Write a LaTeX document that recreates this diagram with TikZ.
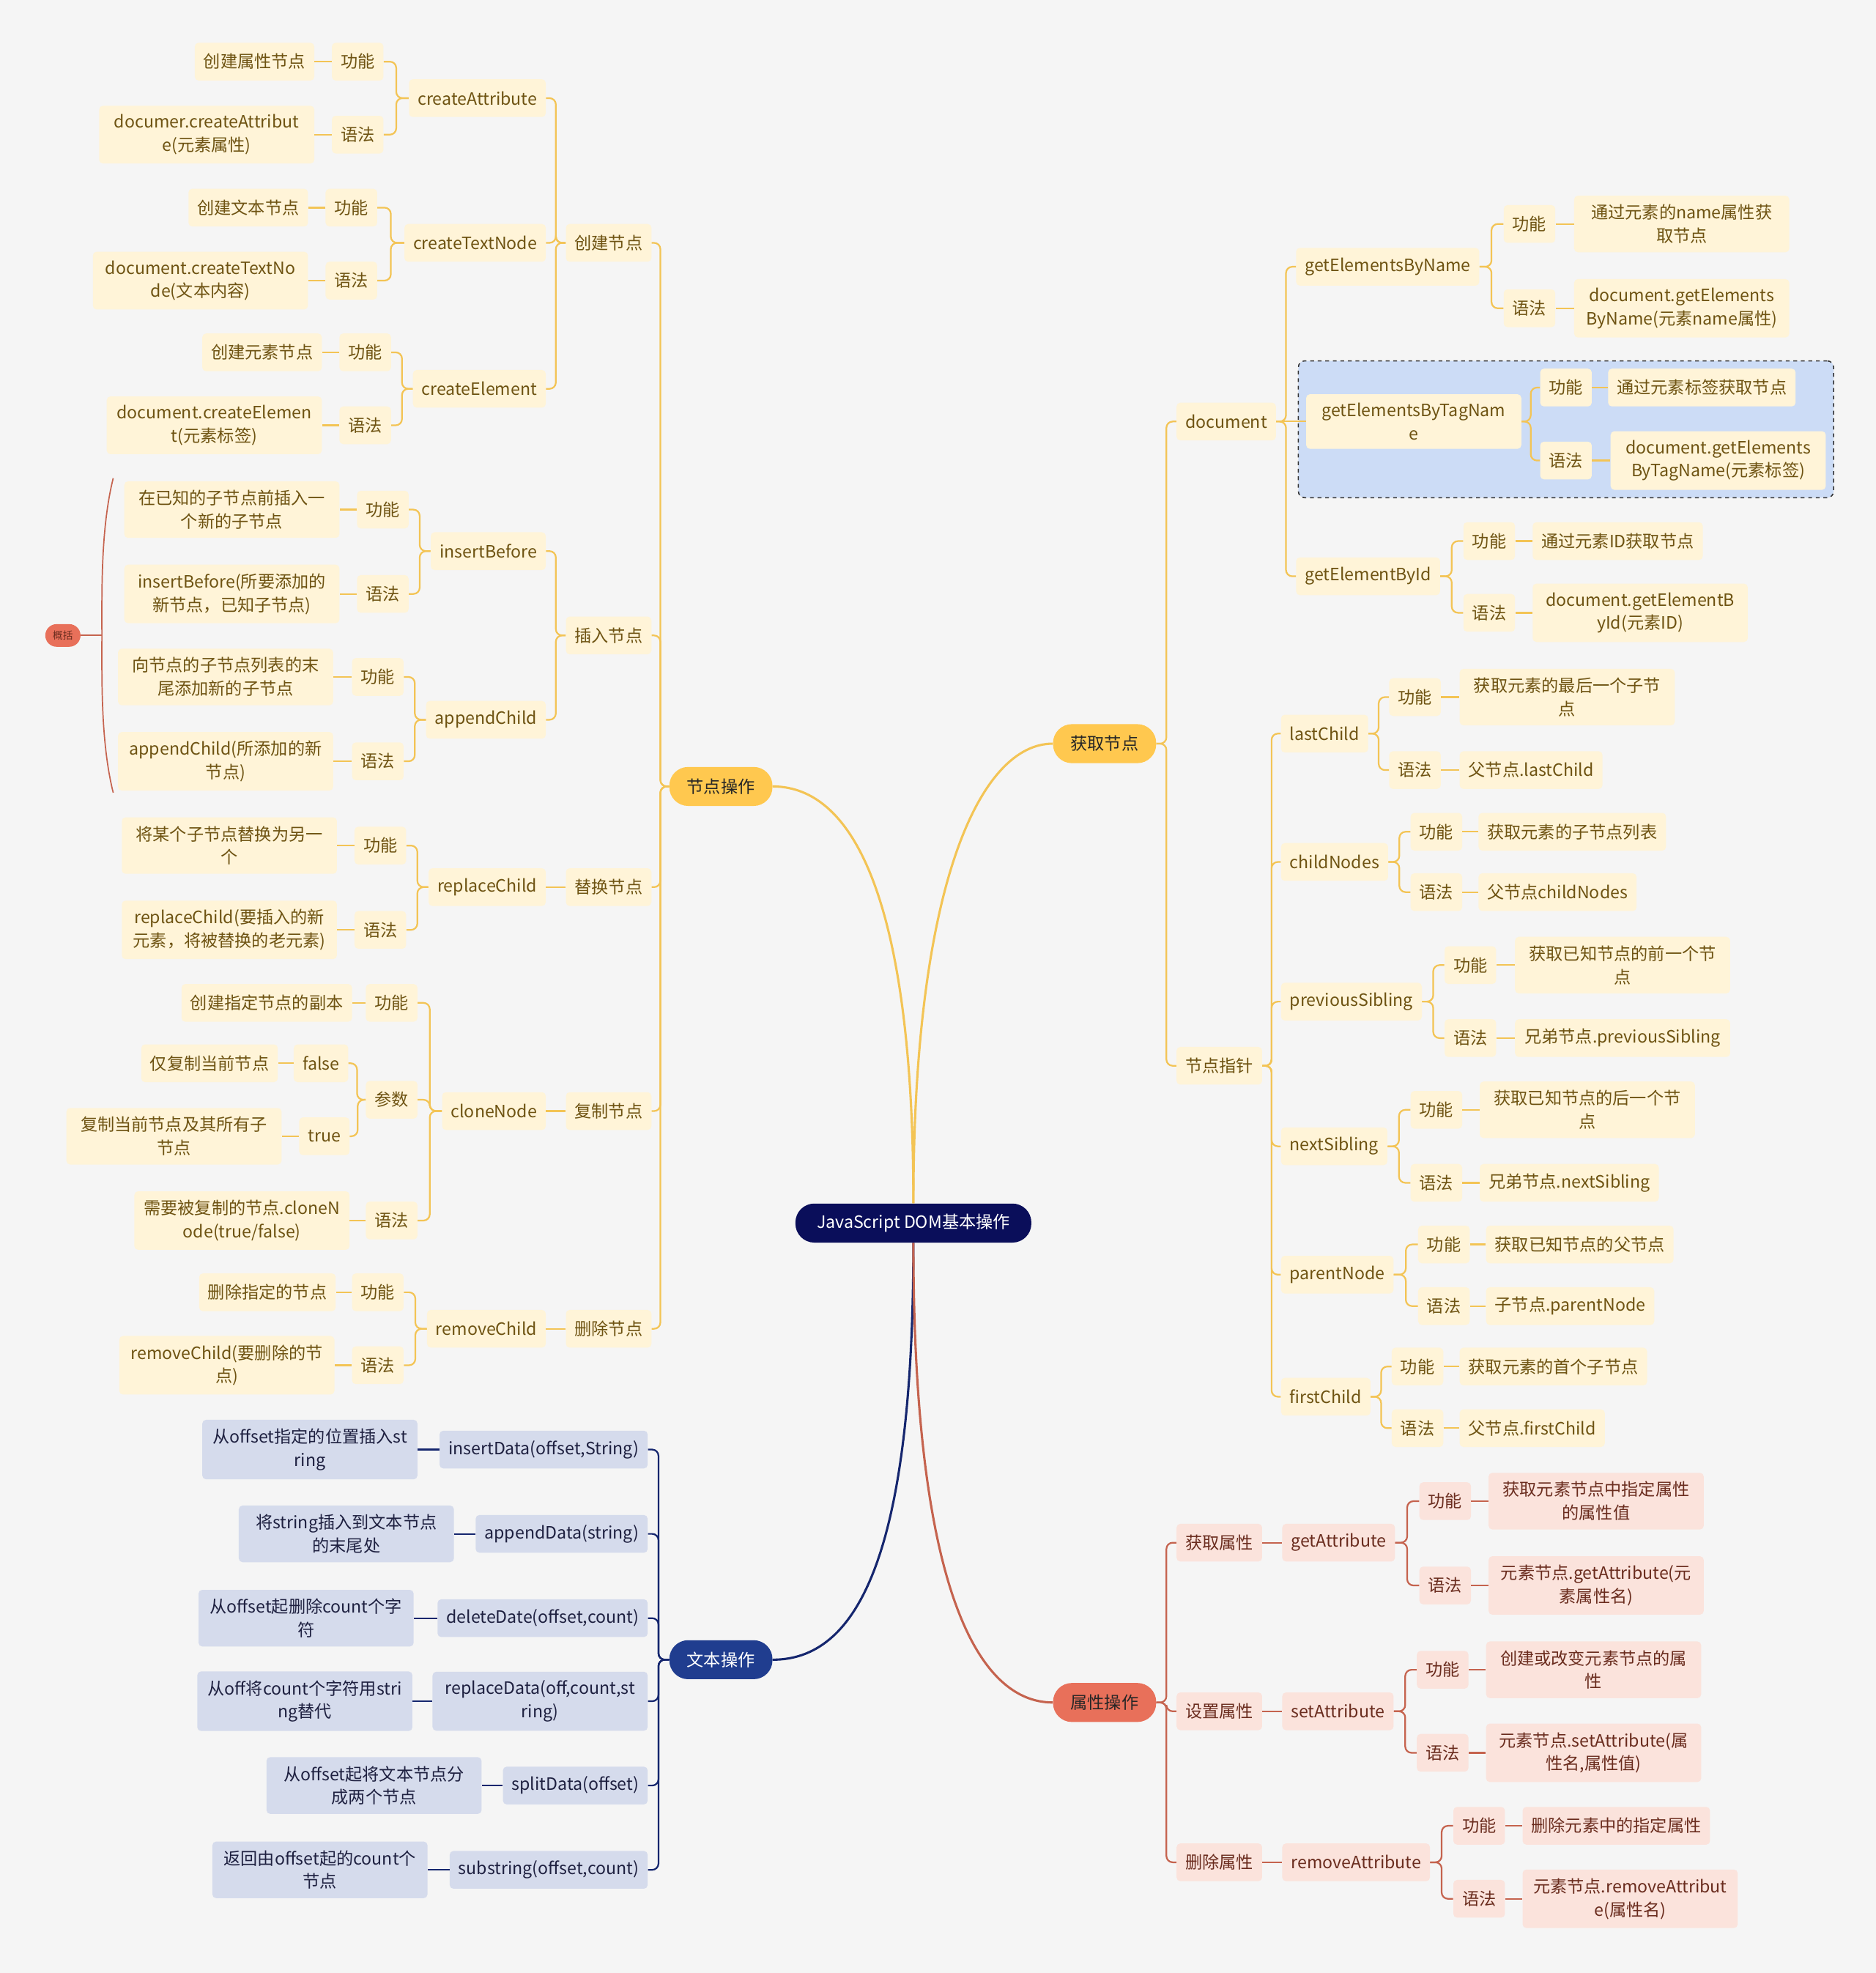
\documentclass[tikz,border=0pt]{standalone}
\usepackage{fontspec}
\setmainfont{Noto Sans CJK SC}
\usetikzlibrary{calc, fit, backgrounds}
\definecolor{cbg}{HTML}{F5F5F5}
\definecolor{croot}{HTML}{0A0E5A}
\definecolor{cyel}{HTML}{FFC84F}
\definecolor{cyelline}{HTML}{F3C455}
\definecolor{cyellight}{HTML}{FFF4D8}
\definecolor{cyeltext}{HTML}{6E5312}
\definecolor{cblue}{HTML}{203D8F}
\definecolor{cblueline}{HTML}{15266E}
\definecolor{cbluelight}{HTML}{D5DBEC}
\definecolor{cbluetext}{HTML}{1E2040}
\definecolor{cred}{HTML}{E8705A}
\definecolor{credline}{HTML}{C5634E}
\definecolor{credlight}{HTML}{FBE3DC}
\definecolor{credtext}{HTML}{6A2C1E}
\definecolor{cpick}{HTML}{CCDCF6}
\tikzset{
  every picture/.style={font=\fontsize{13.5}{18.5}\selectfont},
  box/.style={fill=#1, rounded corners=3pt, align=center, inner xsep=7pt, inner ysep=7pt, minimum height=30pt},
  ybox/.style={box=cyellight, text=cyeltext},
  bbox/.style={box=cbluelight, text=cbluetext},
  rbox/.style={box=credlight, text=credtext},
  wide/.style={minimum width=171pt},
  pill/.style={fill=#1, rounded corners=15pt, minimum height=31pt, inner xsep=14pt, align=center},
  L/.style={anchor=east},
  R/.style={anchor=west},
  ylink/.style={draw=cyelline, line width=1.3pt, rounded corners=5pt},
  blink/.style={draw=cblueline, line width=1.3pt, rounded corners=5pt},
  rlink/.style={draw=credline, line width=1.3pt, rounded corners=5pt},
  ymain/.style={draw=cyelline, line width=1.8pt},
  bmain/.style={draw=cblueline, line width=1.8pt},
  rmain/.style={draw=credline, line width=1.8pt},
  pick/.style={draw=black!80, dashed, line width=0.9pt, fill=cpick, rounded corners=5pt, inner sep=6pt},
  sumline/.style={draw=credline, line width=1pt},
}
% parent on the right, child on the left
\newcommand{\linkL}[3]{\draw[#1] (#2.west) -- ($(#2.west)!0.5!(#2.west-|#3.east)$) |- (#3.east);}
% parent on the left, child on the right
\newcommand{\linkR}[3]{\draw[#1] (#2.east) -- ($(#2.east)!0.5!(#2.east-|#3.west)$) |- (#3.west);}

\begin{document}
\begin{tikzpicture}[x=1pt, y=-1pt]
  \begin{scope}[on background layer]
    \fill[cbg] (0,0) rectangle (1491,1568);
  \end{scope}

  % centre and main branches
  \node[pill=croot, text=white, inner xsep=17pt] (root) at (726,972) {JavaScript DOM基本操作};
  \node[pill=cyel, text=black!85] (n) at (573,625) {节点操作};
  \node[pill=cyel, text=black!85] (g) at (878,591) {获取节点};
  \node[pill=cblue, text=white] (t) at (573,1319) {文本操作};
  \node[pill=cred, text=black!85] (a) at (878,1353) {属性操作};
  \draw[ymain] (root.north) .. controls (726,720) and (680,625) .. (n.east);
  \draw[ymain] (root.north) .. controls (726,700) and (780,591) .. (g.west);
  \draw[bmain] (root.south) .. controls (726,1240) and (680,1319) .. (t.east);
  \draw[rmain] (root.south) .. controls (726,1270) and (780,1353) .. (a.west);

  % 节点操作
  \node[ybox, L] (nA) at (518,193) {创建节点};
  \node[ybox, L] (nB) at (518,505) {插入节点};
  \node[ybox, L] (nC) at (518,705) {替换节点};
  \node[ybox, L] (nD) at (518,883) {复制节点};
  \node[ybox, L] (nE) at (518,1056) {删除节点};

  \node[ybox, L] (nA1) at (434,78) {createAttribute};
  \node[ybox, L] (nA1f) at (305,49) {功能};
  \node[ybox, L] (nA1s) at (305,107) {语法};
  \node[ybox, L] (nA1fx) at (250,49) {创建属性节点};
  \node[ybox, L, wide] (nA1sx) at (250,107) {documer.createAttribut\\e(元素属性)};
  \node[ybox, L] (nA2) at (434,193) {createTextNode};
  \node[ybox, L] (nA2f) at (300,165) {功能};
  \node[ybox, L] (nA2s) at (300,223) {语法};
  \node[ybox, L] (nA2fx) at (245,165) {创建文本节点};
  \node[ybox, L, wide] (nA2sx) at (245,223) {document.createTextNo\\de(文本内容)};
  \node[ybox, L] (nA3) at (434,309) {createElement};
  \node[ybox, L] (nA3f) at (311,280) {功能};
  \node[ybox, L] (nA3s) at (311,338) {语法};
  \node[ybox, L] (nA3fx) at (256,280) {创建元素节点};
  \node[ybox, L, wide] (nA3sx) at (256,338) {document.createElemen\\t(元素标签)};

  \node[ybox, L] (nB1) at (434,438) {insertBefore};
  \node[ybox, L] (nB1f) at (325,405) {功能};
  \node[ybox, L] (nB1s) at (325,472) {语法};
  \node[ybox, L, wide] (nB1fx) at (270,405) {在已知的子节点前插入一\\个新的子节点};
  \node[ybox, L, wide] (nB1sx) at (270,472) {insertBefore(所要添加的\\新节点，已知子节点)};
  \node[ybox, L] (nB2) at (434,572) {appendChild};
  \node[ybox, L] (nB2f) at (321,538) {功能};
  \node[ybox, L] (nB2s) at (321,605) {语法};
  \node[ybox, L, wide] (nB2fx) at (265,538) {向节点的子节点列表的末\\尾添加新的子节点};
  \node[ybox, L, wide] (nB2sx) at (265,605) {appendChild(所添加的新\\节点)};

  \node[ybox, L] (nC1) at (434,705) {replaceChild};
  \node[ybox, L] (nC1f) at (323,672) {功能};
  \node[ybox, L] (nC1s) at (323,739) {语法};
  \node[ybox, L, wide] (nC1fx) at (268,672) {将某个子节点替换为另一\\个};
  \node[ybox, L, wide] (nC1sx) at (268,739) {replaceChild(要插入的新\\元素，将被替换的老元素)};

  \node[ybox, L] (nD1) at (434,883) {cloneNode};
  \node[ybox, L] (nD1f) at (332,797) {功能};
  \node[ybox, L] (nD1p) at (332,874) {参数};
  \node[ybox, L] (nD1s) at (332,970) {语法};
  \node[ybox, L] (nD1fx) at (280,797) {创建指定节点的副本};
  \node[ybox, L] (nD1p1) at (277,845) {false};
  \node[ybox, L] (nD1p2) at (278,903) {true};
  \node[ybox, L] (nD1p1x) at (221,845) {仅复制当前节点};
  \node[ybox, L, wide] (nD1p2x) at (224,903) {复制当前节点及其所有子\\节点};
  \node[ybox, L, wide] (nD1sx) at (278,970) {需要被复制的节点.cloneN\\ode(true/false)};

  \node[ybox, L] (nE1) at (434,1056) {removeChild};
  \node[ybox, L] (nE1f) at (321,1027) {功能};
  \node[ybox, L] (nE1s) at (321,1085) {语法};
  \node[ybox, L] (nE1fx) at (267,1027) {删除指定的节点};
  \node[ybox, L, wide] (nE1sx) at (266,1085) {removeChild(要删除的节\\点)};

  \foreach \c in {nA,nB,nC,nD,nE} {\linkL{ylink}{n}{\c}}
  \foreach \c in {nA1,nA2,nA3} {\linkL{ylink}{nA}{\c}}
  \foreach \c in {nB1,nB2} {\linkL{ylink}{nB}{\c}}
  \foreach \g in {nA1,nA2,nA3,nB1,nB2,nC1,nD1,nE1} {
    \linkL{ylink}{\g}{\g f}
    \linkL{ylink}{\g}{\g s}
    \draw[ylink] (\g f.west) -- (\g fx.east);
    \draw[ylink] (\g s.west) -- (\g sx.east);
  }
  \foreach \c in {nC,nD,nE} {\draw[ylink] (\c.west) -- (\c 1.east);}
  \linkL{ylink}{nD1}{nD1p}
  \foreach \c in {nD1p1,nD1p2} {\linkL{ylink}{nD1p}{\c} \draw[ylink] (\c.west) -- (\c x.east);}

  % summary
  \node[pill=cred, text=credtext, font=\fontsize{8}{10}\selectfont, minimum height=18pt, inner xsep=6pt, rounded corners=9pt] (sum) at (50,505) {概括};
  \coordinate (sumtip) at (81,505);
  \draw[sumline] (90,380) .. controls (80,420) and (81,470) .. (sumtip) .. controls (81,540) and (80,590) .. (90,630);
  \draw[sumline] (sum.east) -- (sumtip);

  % 文本操作
  \node[bbox, L] (t1) at (515,1152) {insertData(offset,String)};
  \node[bbox, L, wide] (t1x) at (332,1152) {从offset指定的位置插入st\\ring};
  \node[bbox, L] (t2) at (515,1219) {appendData(string)};
  \node[bbox, L, wide] (t2x) at (361,1219) {将string插入到文本节点\\的末尾处};
  \node[bbox, L] (t3) at (515,1286) {deleteDate(offset,count)};
  \node[bbox, L, wide] (t3x) at (329,1286) {从offset起删除count个字\\符};
  \node[bbox, L, wide] (t4) at (515,1352) {replaceData(off,count,st\\ring)};
  \node[bbox, L, wide] (t4x) at (328,1352) {从off将count个字符用stri\\ng替代};
  \node[bbox, L] (t5) at (515,1419) {splitData(offset)};
  \node[bbox, L, wide] (t5x) at (383,1419) {从offset起将文本节点分\\成两个节点};
  \node[bbox, L] (t6) at (515,1486) {substring(offset,count)};
  \node[bbox, L, wide] (t6x) at (340,1486) {返回由offset起的count个\\节点};
  \foreach \i in {1,...,6} {\linkL{blink}{t}{t\i} \draw[blink] (t\i.west) -- (t\i x.east);}

  % 获取节点
  \node[ybox, R] (gA) at (935,335) {document};
  \node[ybox, R] (gB) at (935,847) {节点指针};

  \node[ybox, R] (gA1) at (1030,212) {getElementsByName};
  \node[ybox, R] (gA1f) at (1195,178) {功能};
  \node[ybox, R] (gA1s) at (1195,245) {语法};
  \node[ybox, R, wide] (gA1fx) at (1251,178) {通过元素的name属性获\\取节点};
  \node[ybox, R, wide] (gA1sx) at (1251,245) {document.getElements\\ByName(元素name属性)};
  \node[ybox, R, wide] (gA2) at (1038,335) {getElementsByTagNam\\e};
  \node[ybox, R] (gA2f) at (1224,308) {功能};
  \node[ybox, R] (gA2s) at (1224,366) {语法};
  \node[ybox, R] (gA2fx) at (1278,308) {通过元素标签获取节点};
  \node[ybox, R, wide] (gA2sx) at (1280,366) {document.getElements\\ByTagName(元素标签)};
  \node[ybox, R] (gA3) at (1030,458) {getElementById};
  \node[ybox, R] (gA3f) at (1163,430) {功能};
  \node[ybox, R] (gA3s) at (1163,487) {语法};
  \node[ybox, R] (gA3fx) at (1218,430) {通过元素ID获取节点};
  \node[ybox, R, wide] (gA3sx) at (1218,487) {document.getElementB\\yId(元素ID)};

  \node[ybox, R] (gB1) at (1018,583) {lastChild};
  \node[ybox, R] (gB1f) at (1104,554) {功能};
  \node[ybox, R] (gB1s) at (1104,612) {语法};
  \node[ybox, R, wide] (gB1fx) at (1160,554) {获取元素的最后一个子节\\点};
  \node[ybox, R] (gB1sx) at (1160,612) {父节点.lastChild};
  \node[ybox, R] (gB2) at (1018,685) {childNodes};
  \node[ybox, R] (gB2f) at (1121,661) {功能};
  \node[ybox, R] (gB2s) at (1121,709) {语法};
  \node[ybox, R] (gB2fx) at (1175,661) {获取元素的子节点列表};
  \node[ybox, R] (gB2sx) at (1175,709) {父节点childNodes};
  \node[ybox, R] (gB3) at (1018,796) {previousSibling};
  \node[ybox, R] (gB3f) at (1148,767) {功能};
  \node[ybox, R] (gB3s) at (1148,825) {语法};
  \node[ybox, R, wide] (gB3fx) at (1204,767) {获取已知节点的前一个节\\点};
  \node[ybox, R, wide] (gB3sx) at (1204,825) {兄弟节点.previousSibling};
  \node[ybox, R] (gB4) at (1018,911) {nextSibling};
  \node[ybox, R] (gB4f) at (1121,882) {功能};
  \node[ybox, R] (gB4s) at (1121,940) {语法};
  \node[ybox, R, wide] (gB4fx) at (1176,882) {获取已知节点的后一个节\\点};
  \node[ybox, R] (gB4sx) at (1176,940) {兄弟节点.nextSibling};
  \node[ybox, R] (gB5) at (1018,1013) {parentNode};
  \node[ybox, R] (gB5f) at (1127,989) {功能};
  \node[ybox, R] (gB5s) at (1127,1038) {语法};
  \node[ybox, R] (gB5fx) at (1181,989) {获取已知节点的父节点};
  \node[ybox, R] (gB5sx) at (1181,1038) {子节点.parentNode};
  \node[ybox, R] (gB6) at (1018,1110) {firstChild};
  \node[ybox, R] (gB6f) at (1106,1086) {功能};
  \node[ybox, R] (gB6s) at (1106,1135) {语法};
  \node[ybox, R] (gB6fx) at (1160,1086) {获取元素的首个子节点};
  \node[ybox, R] (gB6sx) at (1160,1135) {父节点.firstChild};

  \begin{scope}[on background layer]
    \node[pick, fit=(gA2)(gA2f)(gA2sx)] (gA2box) {};
  \end{scope}

  \foreach \c in {gA,gB} {\linkR{ylink}{g}{\c}}
  \foreach \c in {gA1,gA3} {\linkR{ylink}{gA}{\c}}
  \draw[ylink] (gA.east) -- (gA2.west);
  \foreach \c in {gB1,gB2,gB3,gB4,gB5,gB6} {\linkR{ylink}{gB}{\c}}
  \foreach \g in {gA1,gA2,gA3,gB1,gB2,gB3,gB4,gB5,gB6} {
    \linkR{ylink}{\g}{\g f}
    \linkR{ylink}{\g}{\g s}
    \draw[ylink] (\g f.east) -- (\g fx.west);
    \draw[ylink] (\g s.east) -- (\g sx.west);
  }

  % 属性操作
  \node[rbox, R] (aA) at (935,1226) {获取属性};
  \node[rbox, R] (aA1) at (1019,1226) {getAttribute};
  \node[rbox, R] (aA1f) at (1128,1193) {功能};
  \node[rbox, R] (aA1s) at (1128,1260) {语法};
  \node[rbox, R, wide] (aA1fx) at (1183,1193) {获取元素节点中指定属性\\的属性值};
  \node[rbox, R, wide] (aA1sx) at (1183,1260) {元素节点.getAttribute(元\\素属性名)};
  \node[rbox, R] (aB) at (935,1360) {设置属性};
  \node[rbox, R] (aB1) at (1019,1360) {setAttribute};
  \node[rbox, R] (aB1f) at (1126,1327) {功能};
  \node[rbox, R] (aB1s) at (1126,1393) {语法};
  \node[rbox, R, wide] (aB1fx) at (1181,1327) {创建或改变元素节点的属\\性};
  \node[rbox, R, wide] (aB1sx) at (1181,1393) {元素节点.setAttribute(属\\性名,属性值)};
  \node[rbox, R] (aC) at (935,1480) {删除属性};
  \node[rbox, R] (aC1) at (1019,1480) {removeAttribute};
  \node[rbox, R] (aC1f) at (1155,1451) {功能};
  \node[rbox, R] (aC1s) at (1155,1509) {语法};
  \node[rbox, R] (aC1fx) at (1210,1451) {删除元素中的指定属性};
  \node[rbox, R, wide] (aC1sx) at (1210,1509) {元素节点.removeAttribut\\e(属性名)};

  \foreach \c in {aA,aB,aC} {\linkR{rlink}{a}{\c} \draw[rlink] (\c.east) -- (\c 1.west);}
  \foreach \g in {aA1,aB1,aC1} {
    \linkR{rlink}{\g}{\g f}
    \linkR{rlink}{\g}{\g s}
    \draw[rlink] (\g f.east) -- (\g fx.west);
    \draw[rlink] (\g s.east) -- (\g sx.west);
  }
\end{tikzpicture}
\end{document}
